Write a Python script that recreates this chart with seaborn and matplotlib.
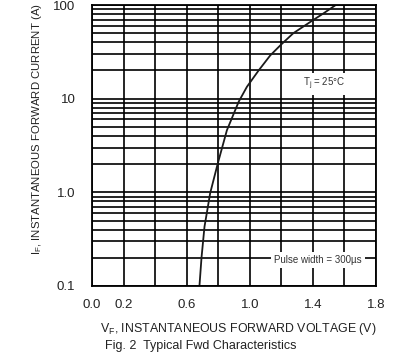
import numpy as np
import pandas as pd
import matplotlib
matplotlib.use("Agg")
import matplotlib.pyplot as plt
import seaborn as sns
from matplotlib.ticker import FixedLocator, FixedFormatter, LogLocator, NullFormatter

# ── data ──────────────────────────────────────────────────
vf = [0.681, 0.694, 0.713, 0.749, 0.796, 0.855, 0.93, 0.982, 1.056, 1.13, 1.20, 1.276, 1.384, 1.47, 1.545]
i_f = [0.1, 0.2, 0.43, 0.98, 2.0, 4.6, 9.3, 13.4, 20.0, 29.0, 38.0, 50.0, 66.0, 82.0, 100.0]

x_ticks = [0.0, 0.2, 0.4, 0.6, 0.8, 1.0, 1.2, 1.4, 1.6, 1.8]
x_labels = ["0.0", "0.2", "", "0.6", "", "1.0", "", "1.4", "", "1.8"]
y_ticks = [0.1, 1.0, 10, 100]
y_labels = ["0.1", "1.0", "10", "100"]

df = pd.DataFrame({"VF": vf, "IF": i_f})

sns.set_style("white")
plt.rcParams["font.family"] = ["Liberation Sans", "DejaVu Sans"]

fig = plt.figure(figsize=(4.14, 3.58), dpi=100)
ax = fig.add_axes([92 / 414, 1 - 286 / 358, (376 - 92) / 414, (286 - 5) / 358])

sns.lineplot(data=df, x="VF", y="IF", ax=ax, color="#1a1a1a", linewidth=1.3, sort=False)

ax.set_yscale("log")
ax.set_xlim(0, 1.8)
ax.set_ylim(0.1, 100)

ax.xaxis.set_major_locator(FixedLocator(x_ticks))
ax.xaxis.set_major_formatter(FixedFormatter(x_labels))
ax.yaxis.set_major_locator(FixedLocator(y_ticks))
ax.yaxis.set_major_formatter(FixedFormatter(y_labels))
ax.yaxis.set_minor_locator(LogLocator(base=10, subs=np.arange(2, 10)))
ax.yaxis.set_minor_formatter(NullFormatter())

ax.grid(True, which="major", axis="both", color="black", linewidth=1.2)
ax.grid(True, which="minor", axis="y", color="black", linewidth=1.2)
ax.set_axisbelow(True)

ax.tick_params(axis="both", which="both", length=0, labelsize=9.5, colors="#222222")
ax.tick_params(axis="x", pad=9)
ax.tick_params(axis="y", pad=12)
for s in ax.spines.values():
    s.set_color("black")
    s.set_linewidth(1.3)

ax.set_xlabel("V$_\\mathregular{F}$, INSTANTANEOUS FORWARD VOLTAGE (V)", fontsize=8.9, color="#222222")
ax.set_ylabel("I$_\\mathregular{F}$, INSTANTANEOUS FORWARD CURRENT (A)", fontsize=8.2, color="#222222")
ax.xaxis.set_label_coords(0.516, -0.125)
ax.yaxis.set_label_coords(-0.194, 0.557)
ax.yaxis.label.set_va("center")

box = dict(facecolor="white", edgecolor="none", pad=2)
ax.text(1.47, 14.5, "T$_\\mathregular{j}$ = 25°C", fontsize=7, color="#333333", ha="center", va="center", bbox=box)
ax.text(1.432, 0.19, "Pulse width = 300µs", fontsize=7, color="#333333", ha="center", va="center", bbox=box)

fig.text(105 / 414, 1 - 346 / 358, "Fig. 2  Typical Fwd Characteristics", fontsize=9, color="#222222", va="center")

fig.savefig("out.png", dpi=100)
